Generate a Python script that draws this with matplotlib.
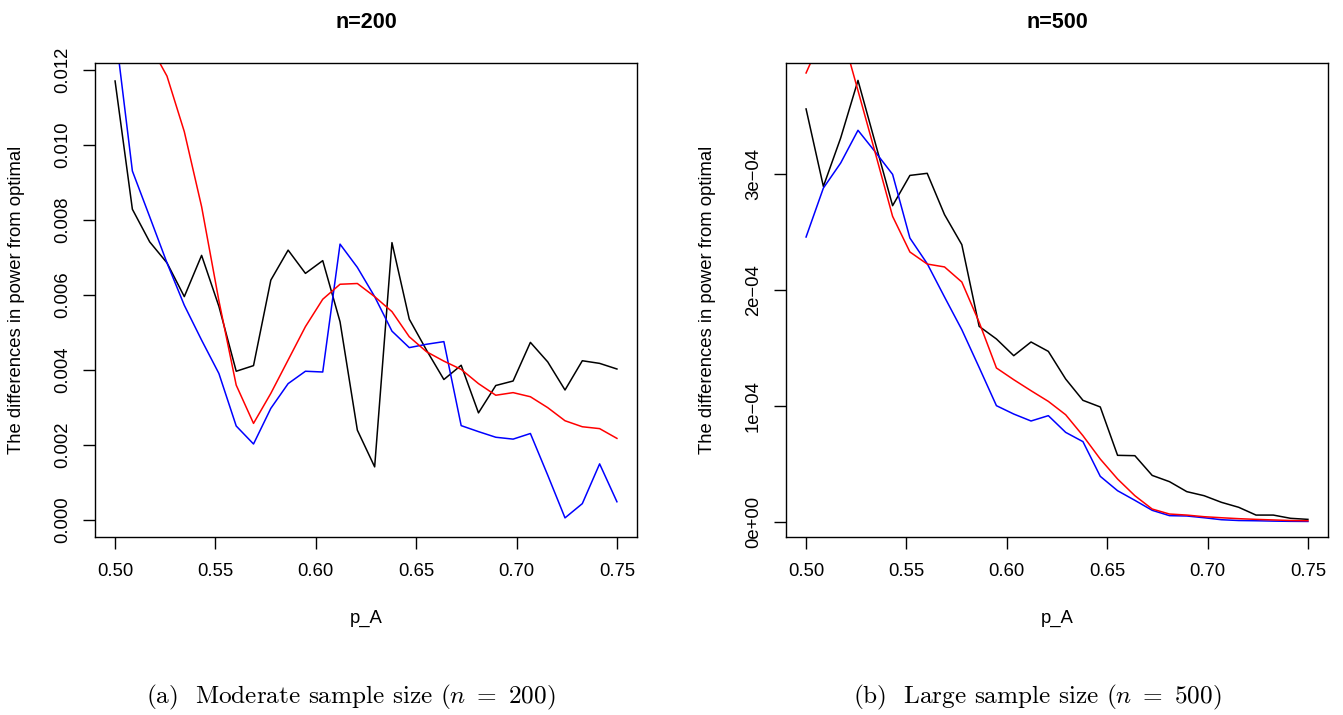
import numpy as np
import matplotlib
matplotlib.use("Agg")
import matplotlib.pyplot as plt

# p_A grid: 30 points from 0.50 to 0.75
p_A = np.linspace(0.5, 0.75, 30)

# n=200 panel (differences in power from optimal)
n200_black = [0.01171, 0.00829, 0.00742, 0.00686, 0.00596, 0.00706, 0.00570, 0.00397, 0.00412, 0.00640,
              0.00720, 0.00658, 0.00692, 0.00529, 0.00240, 0.00142, 0.00740, 0.00536, 0.00453, 0.00375,
              0.00413, 0.00286, 0.00359, 0.00371, 0.00474, 0.00422, 0.00347, 0.00425, 0.00418, 0.00403]
n200_blue = [0.01310, 0.00931, 0.00809, 0.00686, 0.00573, 0.00480, 0.00391, 0.00251, 0.00203, 0.00298,
             0.00364, 0.00397, 0.00395, 0.00736, 0.00674, 0.00596, 0.00504, 0.00460, 0.00469, 0.00476,
             0.00252, 0.00236, 0.00221, 0.00216, 0.00231, 0.00120, 0.00006, 0.00044, 0.00150, 0.00049]
n200_red = [0.01400, 0.01350, 0.01268, 0.01184, 0.01036, 0.00836, 0.00585, 0.00360, 0.00258, 0.00338,
            0.00427, 0.00516, 0.00589, 0.00629, 0.00631, 0.00596, 0.00556, 0.00489, 0.00449, 0.00424,
            0.00402, 0.00364, 0.00333, 0.00340, 0.00329, 0.00300, 0.00265, 0.00249, 0.00244, 0.00218]

# n=500 panel, values in units of 1e-4
n500_black = [3.558, 2.890, 3.308, 3.804, 3.264, 2.724, 2.985, 3.003, 2.647, 2.388,
              1.684, 1.575, 1.431, 1.549, 1.468, 1.230, 1.046, 0.989, 0.572, 0.569,
              0.399, 0.345, 0.259, 0.224, 0.167, 0.124, 0.057, 0.057, 0.029, 0.020]
n500_blue = [2.454, 2.876, 3.092, 3.374, 3.187, 2.994, 2.445, 2.224, 1.937, 1.655,
             1.330, 1.000, 0.928, 0.868, 0.914, 0.770, 0.690, 0.391, 0.267, 0.184,
             0.098, 0.052, 0.049, 0.034, 0.017, 0.010, 0.008, 0.005, 0.003, 0.002]
n500_red = [3.868, 4.200, 4.250, 3.716, 3.178, 2.632, 2.325, 2.221, 2.196, 2.066,
            1.720, 1.325, 1.224, 1.129, 1.037, 0.922, 0.741, 0.540, 0.368, 0.224,
            0.109, 0.066, 0.057, 0.043, 0.034, 0.026, 0.020, 0.015, 0.010, 0.008]

x_ticks = [0.50, 0.55, 0.60, 0.65, 0.70, 0.75]
x_labels = ["0.50", "0.55", "0.60", "0.65", "0.70", "0.75"]
y200_ticks = [0.000, 0.002, 0.004, 0.006, 0.008, 0.010, 0.012]
y200_labels = ["0.000", "0.002", "0.004", "0.006", "0.008", "0.010", "0.012"]
y500_ticks = [0e-4, 1e-4, 2e-4, 3e-4]
y500_labels = ["0e+00", "1e\u221204", "2e\u221204", "3e\u221204"]

plt.rcParams['font.family'] = ['Liberation Sans', 'DejaVu Sans']
plt.rcParams['mathtext.fontset'] = 'cm'

W, H = 1343, 715
fig = plt.figure(figsize=(W / 100, H / 100), dpi=100)


def px(x0, y0, x1, y1):
    return [x0 / W, 1 - y1 / H, (x1 - x0) / W, (y1 - y0) / H]


def panel(rect, black, blue, red, scale, ylim, yt, yl, title):
    ax = fig.add_axes(rect)
    ax.plot(p_A, np.array(black) * scale, color='black', lw=1.1)
    ax.plot(p_A, np.array(blue) * scale, color='#0000ff', lw=1.1)
    ax.plot(p_A, np.array(red) * scale, color='#ff0000', lw=1.1)
    ax.set_xlim(0.49, 0.76)
    ax.set_ylim(*ylim)
    ax.set_xticks(x_ticks, x_labels)
    ax.set_yticks(yt, yl, rotation=90, va='center', ha='center')
    ax.tick_params(axis='both', direction='out', length=8.5, width=1, labelsize=13.3)
    ax.tick_params(axis='x', pad=10.5)
    ax.tick_params(axis='y', pad=15)
    for s in ax.spines.values():
        s.set_linewidth(1)
    ax.set_title(title, fontsize=15.5, fontweight='bold', pad=25)
    return ax


panel(px(95, 63, 637, 537), n200_black, n200_blue, n200_red, 1.0,
      (-0.00045, 0.01219), y200_ticks, y200_labels, "n=200")
panel(px(786, 63, 1328, 537), n500_black, n500_blue, n500_red, 1e-4,
      (-0.132e-4, 3.954e-4), y500_ticks, y500_labels, "n=500")

for xc in (17, 708):
    fig.text(xc / W, 1 - 300 / H, "The differences in power from optimal",
             rotation=90, ha='center', va='center', fontsize=13.3)
for xc in (366, 1057):
    fig.text(xc / W, 1 - 618 / H, "p_A", ha='center', va='center', fontsize=13.3)

fig.text(351 / W, 1 - 697 / H, "(a)  Moderate sample size ($n\\ =\\ 200$)",
         ha='center', va='center', fontsize=18.2, family='cmr10')
fig.text(1037 / W, 1 - 697 / H, "(b)  Large sample size ($n\\ =\\ 500$)",
         ha='center', va='center', fontsize=18.2, family='cmr10')

fig.savefig("out.png", dpi=100)
